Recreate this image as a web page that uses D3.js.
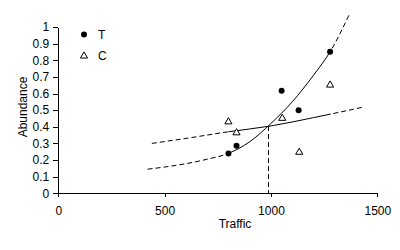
<!DOCTYPE html>
<html>
<head>
<meta charset="utf-8">
<script src="https://cdn.jsdelivr.net/npm/d3@7"></script>
<style>
  body { margin: 0; background: #fff; }
  svg { display: block; font-family: Arial, "Liberation Sans", sans-serif; }
  .axis text { font-size: 12px; fill: #000; }
  .axis path, .axis line { stroke: #000; shape-rendering: crispEdges; }
</style>
</head>
<body>
<svg id="chart"></svg>
<script>
const W = 400, H = 250;

// observed points
const T_TRAFFIC = [800, 838, 1050, 1130, 1278];
const T_ABUND = [0.24, 0.286, 0.617, 0.499, 0.851];
const C_TRAFFIC = [800, 838, 1053, 1133, 1278];
const C_ABUND = [0.43, 0.364, 0.451, 0.247, 0.651];

// fitted curves
const T_FIT_X = [420, 500, 600, 700, 800, 900, 1000, 1100, 1200, 1280, 1370];
const T_FIT_Y = [0.145, 0.158, 0.178, 0.205, 0.24, 0.31, 0.42, 0.55, 0.71, 0.855, 1.08];
const C_FIT_X = [440, 600, 800, 1000, 1200, 1440];
const C_FIT_Y = [0.30, 0.33, 0.37, 0.405, 0.455, 0.52];

const SOLID_RANGE = [800, 1280];
const CROSS_X = 985, CROSS_Y = 0.405;

const X_TICKS = [0, 500, 1000, 1500];
const Y_TICKS = [0, 0.1, 0.2, 0.3, 0.4, 0.5, 0.6, 0.7, 0.8, 0.9, 1];

const x = d3.scaleLinear().domain([0, 1500]).range([58.3, 377.3]);
const y = d3.scaleLinear().domain([0, 1]).range([193.3, 27]);

const svg = d3.select("#chart").attr("width", W).attr("height", H);

svg.append("g")
  .attr("class", "axis")
  .attr("transform", "translate(0,193.3)")
  .call(d3.axisBottom(x).tickValues(X_TICKS).tickFormat(d3.format("d")).tickSizeInner(4).tickSizeOuter(0).tickPadding(9));

svg.append("g")
  .attr("class", "axis")
  .attr("transform", "translate(58.3,0)")
  .call(d3.axisLeft(y).tickValues(Y_TICKS).tickFormat(d => d === 0 || d === 1 ? d : d3.format(".1f")(d)).tickSizeInner(5).tickSizeOuter(0).tickPadding(4));

svg.append("text")
  .attr("x", 235).attr("y", 228)
  .attr("text-anchor", "middle")
  .attr("font-size", 12)
  .text("Traffic");

svg.append("text")
  .attr("transform", "translate(27,107) rotate(-90)")
  .attr("text-anchor", "middle")
  .attr("font-size", 12)
  .text("Abundance");

const defs = svg.append("defs");
defs.append("clipPath").attr("id", "clip-solid")
  .append("rect")
  .attr("x", x(SOLID_RANGE[0])).attr("y", 0)
  .attr("width", x(SOLID_RANGE[1]) - x(SOLID_RANGE[0])).attr("height", H);
const outside = defs.append("clipPath").attr("id", "clip-dash");
outside.append("rect").attr("x", 0).attr("y", 0).attr("width", x(SOLID_RANGE[0])).attr("height", H);
outside.append("rect").attr("x", x(SOLID_RANGE[1])).attr("y", 0).attr("width", W - x(SOLID_RANGE[1])).attr("height", H);

const line = d3.line().x(d => x(d[0])).y(d => y(d[1])).curve(d3.curveMonotoneX);

function drawFit(xs, ys) {
  const pts = xs.map((v, i) => [v, ys[i]]);
  svg.append("path").attr("d", line(pts)).attr("fill", "none").attr("stroke", "#000")
    .attr("stroke-width", 1).attr("clip-path", "url(#clip-solid)");
  svg.append("path").attr("d", line(pts)).attr("fill", "none").attr("stroke", "#000")
    .attr("stroke-width", 1).attr("stroke-dasharray", "5,3").attr("clip-path", "url(#clip-dash)");
}
drawFit(T_FIT_X, T_FIT_Y);
drawFit(C_FIT_X, C_FIT_Y);

svg.append("line")
  .attr("x1", Math.round(x(CROSS_X)) + 0.5).attr("x2", Math.round(x(CROSS_X)) + 0.5)
  .attr("y1", y(CROSS_Y)).attr("y2", y(0))
  .attr("stroke", "#000").attr("stroke-dasharray", "5,3");

const tri = d3.symbol().type(d3.symbolTriangle).size(22);

svg.selectAll("circle.t")
  .data(T_TRAFFIC.map((v, i) => [v, T_ABUND[i]]))
  .join("circle")
  .attr("class", "t")
  .attr("cx", d => x(d[0])).attr("cy", d => y(d[1]))
  .attr("r", 3).attr("fill", "#000");

svg.selectAll("path.c")
  .data(C_TRAFFIC.map((v, i) => [v, C_ABUND[i]]))
  .join("path")
  .attr("class", "c")
  .attr("transform", d => `translate(${x(d[0])},${y(d[1])})`)
  .attr("d", tri).attr("fill", "#fff").attr("stroke", "#000");

// legend
svg.append("circle").attr("cx", 84).attr("cy", 34.5).attr("r", 3).attr("fill", "#000");
svg.append("text").attr("x", 98).attr("y", 38.5).attr("font-size", 12).text("T");
svg.append("path").attr("transform", "translate(84,56)").attr("d", tri).attr("fill", "#fff").attr("stroke", "#000");
svg.append("text").attr("x", 98).attr("y", 60).attr("font-size", 12).text("C");
</script>
</body>
</html>
